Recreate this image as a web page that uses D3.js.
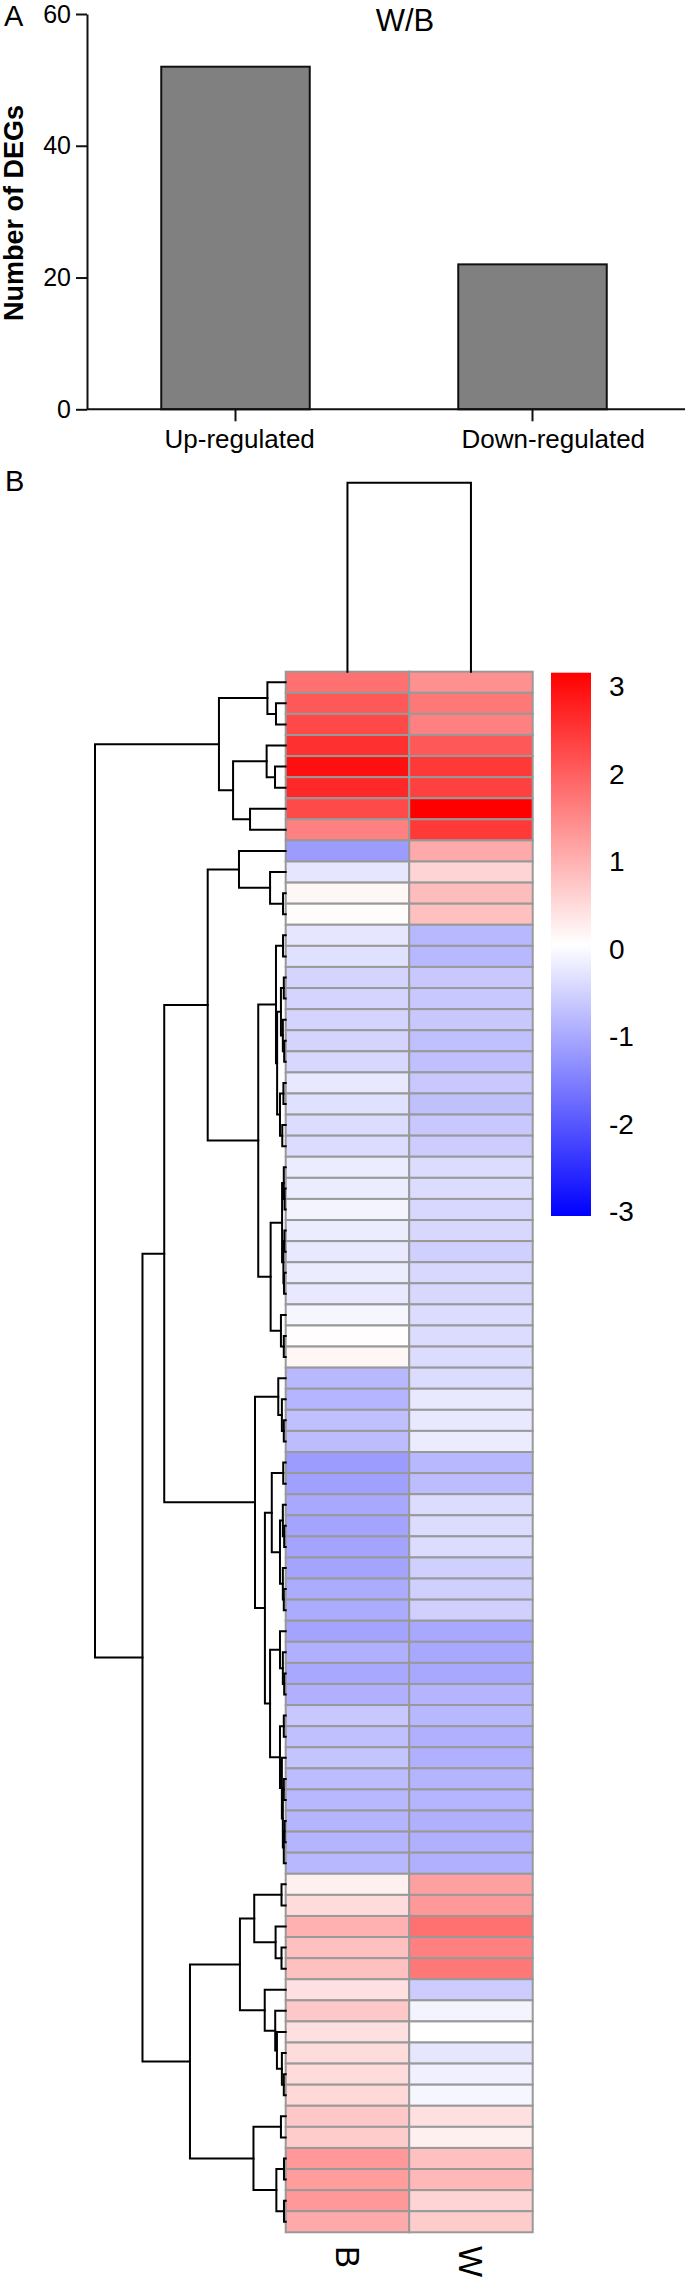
<!DOCTYPE html>
<html><head><meta charset="utf-8">
<script src="https://cdn.jsdelivr.net/npm/d3@7"></script>
<style>
body{margin:0;background:#fff}
svg{display:block}
text{font-family:"Liberation Sans",Arial,Helvetica,sans-serif;fill:#000}
</style>
</head><body>
<svg id="c" width="685" height="2280"></svg>
<script>
// ---------------- DATA ----------------
const barCategories = ["Up-regulated", "Down-regulated"];
const barValues = [52, 22];
const barTicks = [0, 20, 40, 60];
const barTitle = "W/B";
const barYLabel = "Number of DEGs";

const samples = ["B", "W"];
const valuesB = [1.68,1.96,2.15,2.44,2.81,2.53,2.13,1.49,-1.16,-0.29,
  0.11,0.04,-0.29,-0.36,-0.51,-0.51,-0.51,-0.51,-0.46,-0.27,
  -0.36,-0.41,-0.41,-0.22,-0.22,-0.13,-0.22,-0.27,-0.22,-0.27,
  -0.11,0.02,0.11,-0.84,-0.88,-0.74,-0.79,-1.16,-1.12,-1.02,
  -1.07,-1.07,-1.07,-0.98,-0.98,-1.07,-0.93,-1.02,-0.93,-0.65,
  -0.74,-0.69,-0.79,-0.84,-0.88,-0.88,-0.84,0.18,0.41,0.93,
  0.74,0.74,0.36,0.65,0.36,0.41,0.41,0.46,0.65,0.60,
  1.21,1.16,1.21,1.00];
const valuesW = [1.31,1.59,1.49,1.96,2.34,2.25,3.00,2.34,1.00,0.51,
  0.79,0.74,-0.84,-0.84,-0.65,-0.65,-0.65,-0.74,-0.74,-0.65,
  -0.74,-0.65,-0.60,-0.41,-0.41,-0.46,-0.46,-0.55,-0.46,-0.46,
  -0.41,-0.41,-0.41,-0.41,-0.27,-0.27,-0.22,-0.84,-0.79,-0.41,
  -0.41,-0.41,-0.55,-0.55,-0.55,-1.02,-1.02,-1.02,-0.88,-0.84,
  -0.93,-0.93,-0.88,-0.88,-0.93,-0.93,-0.93,1.12,1.21,1.68,
  1.49,1.59,-0.60,-0.13,0.00,-0.29,-0.18,-0.11,0.36,0.18,
  0.74,0.84,0.51,0.60];
const legendTicks = [3, 2, 1, 0, -1, -2, -3];

// row dendrogram: [height, upper, lower]; leaves are row numbers (1-based)
const rowTree = [10,
  [3.5, [0.96, 1, [0.51, 2, 3]], [2.76, [1.0, 4, [0.56, 5, 6]], [1.87, 7, 8]]],
  [7.51,
    [6.37,
      [4.09,
        [2.45, 9, [0.82, 10, [0.14, 11, 12]]],
        [1.44,
          [0.51, [0.14, 13, 14],
            [0.45, [0.25, [0.1, 15, 16], [0.15, 17, [0.08, 18, 19]]], [0.3, [0.12, 20, 21], [0.18, 22, 23]]]],
          [0.79,
            [0.19, [0.1, 24, [0.06, 25, 26]], [0.12, [0.07, 27, 28], [0.09, 29, 30]]],
            [0.25, 31, [0.1, 32, 33]]]]],
      [1.61,
        [0.39, 34, [0.2, 35, [0.1, 36, 37]]],
        [1.09,
          [0.73, [0.13, 38, 39], [0.3, [0.15, 40, [0.08, 41, 42]], [0.15, 43, [0.1, 44, 45]]]],
          [0.82,
            [0.3, 46, [0.15, 47, [0.08, 48, 49]]],
            [0.3, [0.1, 50, 51], [0.2, 52, [0.15, [0.1, 53, 54], [0.1, [0.06, 55, 56], 57]]]]]]]],
    [5.02,
      [2.4,
        [1.65, [0.22, 58, 59], [0.53, 60, [0.22, 61, 62]]],
        [1.1, 63, [0.55, 64, [0.46, 65, [0.2, 66, [0.1, 67, 68]]]]]],
      [1.69, [0.25, 69, 70], [0.49, [0.09, 71, 72], [0.09, 73, 74]]]]]];
// column dendrogram
const colTree = [1, "B", "W"];

// ---------------- DRAW ----------------
const svg = d3.select("#c");
const font = "'Liberation Sans',Arial,Helvetica,sans-serif";

// ===== Panel A: bar chart =====
const yBar = d3.scaleLinear().domain([0, 60]).range([409.3, 14]);
const xBar = d3.scaleBand().domain(barCategories).range([87, 681]).paddingInner(0.5).paddingOuter(0.25);

svg.append("text").attr("x", 4).attr("y", 26).attr("font-size", 29).text("A");
svg.append("text").attr("x", 405).attr("y", 31).attr("font-size", 31).attr("text-anchor", "middle").text(barTitle);

svg.selectAll("rect.bar").data(barValues).join("rect").attr("class", "bar")
  .attr("x", (d, i) => xBar(barCategories[i]))
  .attr("y", d => yBar(d))
  .attr("width", xBar.bandwidth())
  .attr("height", d => yBar(0) - yBar(d))
  .attr("fill", "#808080").attr("stroke", "#111").attr("stroke-width", 2);

const yAx = svg.append("g").attr("transform", "translate(87,0)")
  .call(d3.axisLeft(yBar).tickValues(barTicks).tickSize(11).tickSizeOuter(0).tickPadding(5));
yAx.select(".domain").attr("stroke-width", 2).attr("stroke", "#111");
yAx.selectAll(".tick line").attr("stroke-width", 2).attr("stroke", "#111");
yAx.selectAll(".tick text").attr("font-size", 25).attr("font-family", font).attr("fill", "#111");

const xAx = svg.append("g").attr("transform", `translate(0,${yBar(0)})`)
  .call(d3.axisBottom(xBar).tickSize(12).tickSizeOuter(0));
xAx.select(".domain").remove();
xAx.append("line").attr("x1", 87).attr("x2", 685).attr("y1", 0).attr("y2", 0).attr("stroke", "#111").attr("stroke-width", 2);
xAx.selectAll(".tick line").attr("stroke-width", 2).attr("stroke", "#111");
xAx.selectAll(".tick text").attr("font-size", 26).attr("font-family", font).attr("fill", "#111")
  .attr("text-anchor", "start").attr("x", -71).attr("y", 39).attr("dy", 0);

svg.append("text").attr("transform", "translate(22.5,213) rotate(-90)")
  .attr("text-anchor", "middle").attr("font-size", 27).attr("font-weight", "bold").text(barYLabel);

// ===== Panel B: heatmap =====
svg.append("text").attr("x", 5).attr("y", 491).attr("font-size", 29).text("B");

const nRows = valuesB.length;
const rowIds = d3.range(1, nRows + 1);
const yRow = d3.scaleBand().domain(rowIds).range([671.7, 2232.3]);
const xCol = d3.scaleBand().domain(samples).range([285.7, 532.7]);
const color = d3.scaleLinear().domain([-3, 0, 3]).range(["#0000ff", "#ffffff", "#ff0000"]).clamp(true);

const cells = [];
rowIds.forEach((r, i) => {
  cells.push({ s: "B", r, v: valuesB[i] });
  cells.push({ s: "W", r, v: valuesW[i] });
});
svg.append("g").selectAll("rect").data(cells).join("rect")
  .attr("x", d => xCol(d.s)).attr("y", d => yRow(d.r))
  .attr("width", xCol.bandwidth()).attr("height", yRow.bandwidth())
  .attr("fill", d => color(d.v)).attr("stroke", "#999").attr("stroke-width", 2);

// row dendrogram
const hRow = d3.scaleLinear().domain([0, 10]).range([285.7, 95]);
const dend = svg.append("g").attr("fill", "none").attr("stroke", "#000").attr("stroke-width", 2).attr("stroke-linecap", "square");
function layoutRow(node) {
  if (!Array.isArray(node)) return { x: hRow(0), y: yRow(node) + yRow.bandwidth() / 2 };
  const a = layoutRow(node[1]), b = layoutRow(node[2]);
  const x = hRow(node[0]);
  const y = (a.y + b.y) / 2;
  dend.append("path").attr("d", `M${a.x},${a.y}H${x}V${b.y}H${b.x}`);
  return { x, y };
}
layoutRow(rowTree);

// column dendrogram
const hCol = d3.scaleLinear().domain([0, 1]).range([671.7, 482.7]);
(function () {
  const xa = xCol(colTree[1]) + xCol.bandwidth() / 2, xb = xCol(colTree[2]) + xCol.bandwidth() / 2;
  const y = hCol(colTree[0]);
  dend.append("path").attr("d", `M${xa},${hCol(0)}V${y}H${xb}V${hCol(0)}`);
})();

// column labels
svg.selectAll("text.col").data(samples).join("text").attr("class", "col")
  .attr("transform", d => `translate(${xCol(d) + xCol.bandwidth() / 2},2246) rotate(90)`)
  .attr("dy", "0.36em").attr("font-size", 33).text(d => d);

// legend
const legTop = 672.7, legBot = 1216, legX = 551, legW = 40;
const defs = svg.append("defs");
const grad = defs.append("linearGradient").attr("id", "lg").attr("x1", 0).attr("x2", 0).attr("y1", 0).attr("y2", 1);
d3.range(3, -3.01, -0.5).forEach(v => {
  grad.append("stop").attr("offset", (3 - v) / 6).attr("stop-color", color(v));
});
svg.append("rect").attr("x", legX).attr("y", legTop).attr("width", legW).attr("height", legBot - legTop).attr("fill", "url(#lg)");
const yLeg = d3.scaleLinear().domain([3, -3]).range([legTop + 13.5, legBot - 5]);
svg.selectAll("text.leg").data(legendTicks).join("text").attr("class", "leg")
  .attr("x", 609).attr("y", d => yLeg(d)).attr("dy", "0.36em").attr("font-size", 28).text(d => d);
</script>
</body></html>
